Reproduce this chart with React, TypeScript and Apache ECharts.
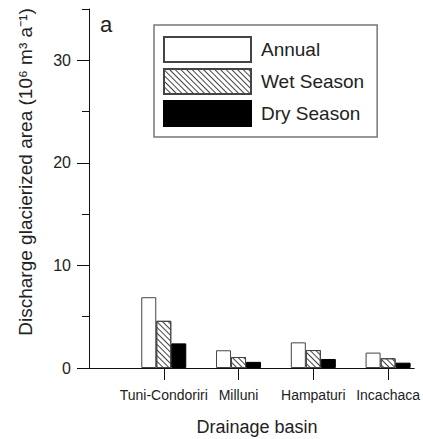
import React, { useEffect, useRef } from "react";
import * as echarts from "echarts";

const basins = ["Tuni-Condoriri", "Milluni", "Hampaturi", "Incachaca"];
const positions = [1, 2, 3, 4];
const annual = [6.9, 1.73, 2.5, 1.5];
const wetSeason = [4.6, 1.07, 1.75, 0.95];
const drySeason = [2.4, 0.6, 0.88, 0.52];
const yTickLabels = [0, 10, 20, 30];

const FONT = "'Liberation Sans', Arial, Helvetica, sans-serif";
const INK = "#222";

export default function App() {
  const ref = useRef<HTMLDivElement>(null);
  useEffect(() => {
    if (!ref.current) return;
    const chart = echarts.init(ref.current, null, { renderer: "svg" });
    const pts = (vals: number[]) => vals.map((v, i) => [positions[i], v]);
    const hatch = {
      symbol: "rect",
      symbolSize: 1,
      dashArrayX: [[1, 0]],
      dashArrayY: [1, 2.5],
      rotation: Math.PI / 4,
      color: "#444",
    };
    chart.setOption({
      animation: false,
      backgroundColor: "#fff",
      textStyle: { fontFamily: FONT, color: INK },
      grid: { left: 89, right: 8, top: 9, bottom: 71, containLabel: false },
      legend: {
        orient: "vertical",
        left: 154,
        top: 25,
        padding: [11, 13, 10, 9],
        borderColor: "#777",
        borderWidth: 1.5,
        itemWidth: 87,
        itemHeight: 25,
        itemGap: 5,
        icon: "rect",
        textStyle: { fontSize: 19, color: INK, fontFamily: FONT, padding: [0, 0, 0, 5] },
        data: ["Annual", "Wet Season", "Dry Season"],
      },
      xAxis: {
        type: "value",
        min: 0,
        max: 4.35,
        interval: 1,
        splitLine: { show: false },
        axisLine: { show: true, onZero: false, lineStyle: { color: "#111", width: 1 } },
        axisTick: {
          show: true,
          length: 12,
          customValues: positions,
          lineStyle: { color: "#111" },
        },
        axisLabel: {
          customValues: positions,
          fontSize: 14,
          margin: 20,
          color: INK,
          fontFamily: FONT,
          formatter: (v: number) => basins[positions.indexOf(Math.round(v))] ?? "",
        },
      },
      yAxis: [
        {
          type: "value",
          min: 0,
          max: 35,
          interval: 10,
          position: "left",
          splitLine: { show: false },
          axisLine: { show: true, lineStyle: { color: "#111", width: 1 } },
          axisTick: { show: true, length: 12, customValues: yTickLabels, lineStyle: { color: "#111" } },
          axisLabel: {
            customValues: yTickLabels,
            fontSize: 16,
            margin: 18,
            color: INK,
            fontFamily: FONT,
          },
        },
        {
          type: "value",
          min: 0,
          max: 35,
          interval: 5,
          position: "left",
          offset: 0,
          splitLine: { show: false },
          axisLine: { show: false },
          axisTick: { show: true, length: 7, lineStyle: { color: "#111" } },
          axisLabel: { show: false },
        },
      ],
      series: [
        {
          name: "Annual",
          type: "bar",
          data: pts(annual),
          barWidth: 15,
          barGap: "0%",
          itemStyle: { color: "#fff", borderColor: "#444", borderWidth: 1 },
        },
        {
          name: "Wet Season",
          type: "bar",
          data: pts(wetSeason),
          barWidth: 15,
          barGap: "0%",
          itemStyle: { color: "#fff", borderColor: "#444", borderWidth: 1, decal: hatch },
        },
        {
          name: "Dry Season",
          type: "bar",
          data: pts(drySeason),
          barWidth: 15,
          barGap: "0%",
          itemStyle: { color: "#000", borderColor: "#000", borderWidth: 1 },
        },
      ],
      graphic: [
        {
          type: "text",
          left: 100,
          top: 13,
          style: { text: "a", fontSize: 22, fill: INK, fontFamily: FONT },
        },
        {
          type: "text",
          x: 25,
          y: 172,
          rotation: Math.PI / 2,
          style: {
            text: "Discharge glacierized area (10⁶ m³ a⁻¹)",
            fontSize: 19,
            fill: INK,
            fontFamily: FONT,
            align: "center",
            verticalAlign: "middle",
          },
        },
        {
          type: "text",
          x: 257,
          y: 427,
          style: {
            text: "Drainage basin",
            fontSize: 18,
            fill: INK,
            fontFamily: FONT,
            align: "center",
            verticalAlign: "middle",
          },
        },
      ],
    });
    return () => chart.dispose();
  }, []);
  return (
    <div
      ref={ref}
      style={{ position: "absolute", left: 0, top: 0, width: 423, height: 439 }}
    />
  );
}
